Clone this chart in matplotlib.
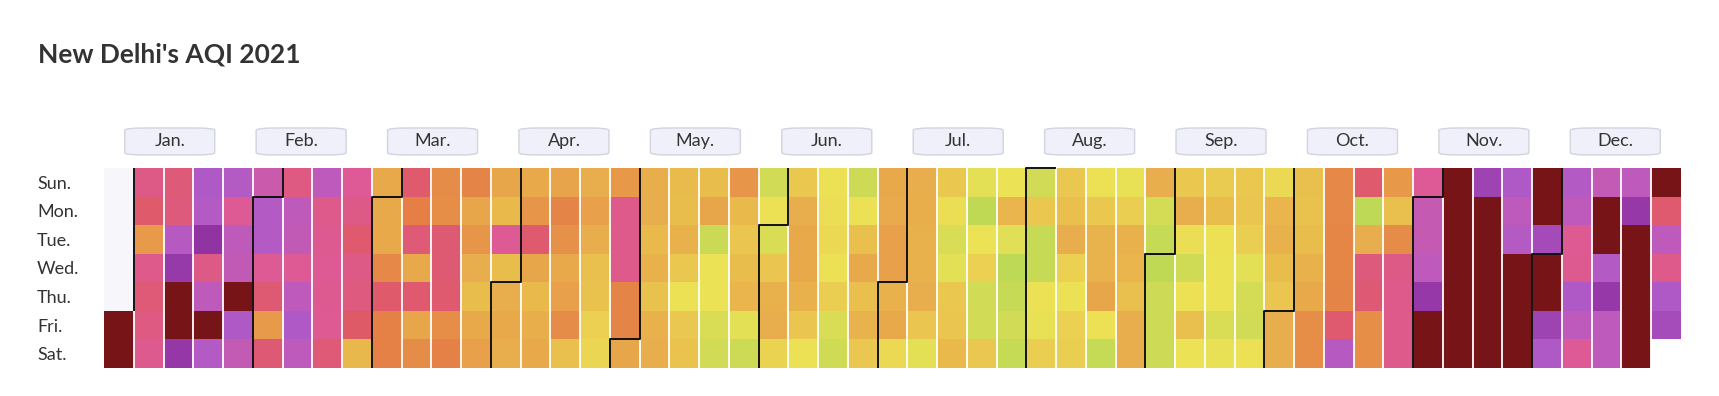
import datetime as dt
import numpy as np
import matplotlib
matplotlib.use('Agg')
from matplotlib import pyplot as plt, patches
from matplotlib.colors import LinearSegmentedColormap, ListedColormap

# daily AQI
jan = [420, 420, 225, 202, 150, 228, 212, 222, 232, 214, 218, 276, 315, 420, 420, 318,
       282, 280, 322, 225, 268, 420, 280, 278, 238, 268, 265, 420, 282, 264, 258]
feb = [280, 280, 238, 208, 150, 210, 222, 268, 266, 238, 270, 282, 270, 270, 228, 233,
       238, 233, 236, 212, 240, 225, 205, 226, 220, 200, 118, 135]
mar = [135, 135, 165, 203, 176, 176, 204, 177, 212, 135, 206, 138, 163, 163, 160, 208,
       208, 206, 160, 176, 172, 137, 154, 130, 112, 135, 145, 137, 116, 238, 112]
apr = [130, 135, 130, 135, 154, 205, 137, 116, 128, 135, 140, 172, 158, 135, 145, 162,
       108, 130, 145, 130, 108, 106, 96, 93, 152, 228, 228, 228, 172, 172]
may = [137, 128, 130, 116, 125, 106, 125, 128, 114, 112, 125, 100, 86, 102, 105, 112,
       137, 64, 85, 85, 72, 68, 155, 116, 104, 112, 120, 80, 65, 68, 86]
jun = [72, 104, 125, 130, 95, 100, 130, 135, 135, 125, 104, 86, 86, 88, 92, 86,
       98, 72, 66, 65, 86, 108, 135, 108, 122, 102, 135, 133, 145, 145]
jul = [125, 135, 92, 130, 128, 125, 125, 130, 104, 80, 100, 88, 72, 80, 100, 104,
       116, 80, 58, 85, 96, 68, 68, 102, 85, 120, 78, 56, 62, 68, 60]
aug = [68, 100, 62, 62, 86, 84, 98, 102, 108, 130, 96, 86, 96, 98, 86, 100,
       122, 122, 137, 86, 60, 84, 98, 125, 120, 110, 130, 130, 130, 70, 60]
sep = [57, 65, 65, 65, 100, 130, 88, 66, 86, 110, 85, 99, 112, 86, 85, 85,
       72, 84, 100, 104, 98, 80, 70, 68, 86, 92, 120, 125, 112, 104]
octo = [130, 130, 108, 107, 112, 125, 135, 160, 160, 165, 165, 168, 168, 172, 205, 276,
        204, 56, 130, 218, 210, 160, 160, 152, 108, 163, 226, 228, 228, 228, 240]
nov = [262, 262, 270, 316, 420, 420, 420, 420, 420, 420, 420, 420, 420, 305, 420, 420,
       420, 420, 420, 420, 282, 270, 278, 420, 420, 420, 420, 420, 420, 298]
dec = [420, 420, 305, 282, 280, 270, 236, 233, 282, 270, 240, 264, 420, 420, 280, 316,
       270, 270, 270, 316, 420, 420, 420, 420, 420, 420, 205, 270, 228, 282, 296]

months = ['Jan.', 'Feb.', 'Mar.', 'Apr.', 'May.', 'Jun.',
          'Jul.', 'Aug.', 'Sep.', 'Oct.', 'Nov.', 'Dec.']
days = ['Sun.', 'Mon.', 'Tue.', 'Wed.', 'Thu.', 'Fri.', 'Sat.']
year = 2021

aqi = jan + feb + mar + apr + may + jun + jul + aug + sep + octo + nov + dec

# colour scale: value -> colour
stops = [(55, '#bdd955'), (68, '#d3db55'), (85, '#ece255'), (100, '#eac850'),
         (112, '#e9bc4c'), (130, '#e8ac4c'), (145, '#e8a04a'), (165, '#e58848'),
         (178, '#e57f45'), (195, '#df5a62'), (240, '#dd5a98'), (282, '#b05ac8'),
         (322, '#9233a3'), (335, '#8e30a0'), (345, '#761418'), (450, '#761418')]
vmin, vmax = stops[0][0], stops[-1][0]
cmap = LinearSegmentedColormap.from_list(
    'aqi', [((v - vmin) / (vmax - vmin), c) for v, c in stops])

# calendar grid, weeks start on Sunday
start = dt.date(year, 1, 1)
offset = (start.weekday() + 1) % 7
ncol = (len(aqi) + offset + 6) // 7
grid = np.full((7, ncol), np.nan)
before = np.full((7, ncol), np.nan)
for i, v in enumerate(aqi):
    k = i + offset
    grid[k % 7, k // 7] = v
for k in range(offset):
    before[k % 7, k // 7] = 1

plt.rcParams['font.family'] = ['Lato', 'DejaVu Sans']
W, H = 1719, 396
fig = plt.figure(figsize=(W / 100, H / 100), dpi=100)
fig.patch.set_facecolor('white')

gl, gt, gw, gh = 104, 168, 1577, 200
ax = fig.add_axes([gl / W, (H - gt - gh) / H, gw / W, gh / H])

ax.pcolormesh(np.ma.masked_invalid(before), cmap=ListedColormap(['#f7f6fb']))
ax.pcolormesh(np.ma.masked_invalid(grid), cmap=cmap, vmin=vmin, vmax=vmax)
ax.vlines(np.arange(1, ncol), 0, 7, color='white', lw=1.3)

# month start borders
for m in range(1, 13):
    k = (dt.date(year, m, 1) - start).days + offset
    c, r = k // 7, k % 7
    if m == 1:
        xs, ys = [c + 1, c + 1], [0, r]
    else:
        xs, ys = [c + 1, c + 1, c, c], [0, r, r, 7]
    ax.plot(xs, ys, color='#111111', lw=1.4, solid_capstyle='butt', clip_on=False)

ax.set_xlim(0, ncol)
ax.set_ylim(7, 0)
ax.set_xticks([])
ax.set_yticks(np.arange(7) + 0.5)
ax.set_yticklabels(days, ha='left', fontsize=13, color='#333333')
ax.tick_params(axis='y', length=0, pad=(gl - 37) * 0.72)
for s in ax.spines.values():
    s.set_visible(False)

# month label boxes, evenly spaced above the grid
bw, bh = 90 / gw, 27 / gh
by = (gt + gh - 141.5) / gh
for i, name in enumerate(months):
    cx = (i + 0.5) / 12
    box = patches.FancyBboxPatch((cx - bw / 2, by - bh / 2), bw, bh,
                                 boxstyle='round,pad=0,rounding_size=0.012',
                                 transform=ax.transAxes, clip_on=False,
                                 facecolor='#eff0f9', edgecolor='#d2d4de', lw=1)
    ax.add_patch(box)
    ax.text(cx, by, name, transform=ax.transAxes, ha='center', va='center',
            fontsize=13, color='#333333')

fig.text(38 / W, 1 - 62 / H, "New Delhi's AQI 2021", fontsize=19,
         fontweight='bold', color='#333333', va='baseline', ha='left')

fig.savefig('out.png', dpi=100, facecolor='white')
